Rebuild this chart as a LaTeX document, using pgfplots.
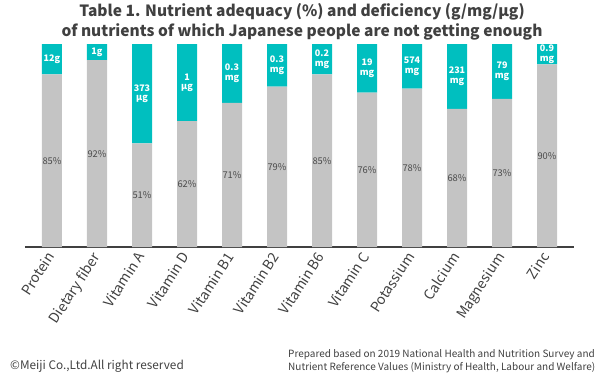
\documentclass[border=0pt]{standalone}
\usepackage{fontspec}
\setmainfont{Noto Sans CJK JP}
\usepackage{pgfplots}
\pgfplotsset{compat=1.18}
\definecolor{teal1}{HTML}{00BFBF}
\definecolor{gray1}{HTML}{C4C4C4}
\definecolor{txt}{HTML}{404040}
\definecolor{pct}{HTML}{4A4A4A}
\begin{document}
\begin{tikzpicture}
\path[use as bounding box] (0pt,0pt) rectangle (600pt,376pt);
\node[font=\bfseries\fontsize{15.5}{20}\selectfont, text=txt, align=center] at (302pt,354pt) {Table 1. Nutrient adequacy (\%) and deficiency (g/mg/µg)\\of nutrients of which Japanese people are not getting enough};
\begin{axis}[at={(25pt,129pt)}, anchor=south west, scale only axis, width=549pt, height=203pt,
  xmin=-0.6, xmax=11.6, ymin=0, ymax=100, ybar stacked, bar width=20pt,
  axis x line=bottom, axis y line=none, x axis line style={draw=txt, line width=1.2pt, -},
  xtick={0,...,11}, major tick length=0,
  xticklabels={Protein,Dietary fiber,Vitamin A,Vitamin D,Vitamin B1,Vitamin B2,Vitamin B6,Vitamin C,Potassium,Calcium,Magnesium,Zinc},
  xticklabel style={xshift=-7pt, yshift=1pt, rotate=57, anchor=north east, font=\fontsize{14}{16}\selectfont, text=txt},
  clip=false]
\addplot[fill=gray1, draw=none] coordinates {(0,85) (1,92) (2,51) (3,62) (4,71) (5,79) (6,85) (7,76) (8,78) (9,68) (10,73) (11,90)};
\addplot[fill=teal1, draw=none] coordinates {(0,15) (1,8) (2,49) (3,38) (4,29) (5,21) (6,15) (7,24) (8,22) (9,32) (10,27) (11,10)};
\end{axis}
\begin{axis}[at={(25pt,129pt)}, anchor=south west, scale only axis, width=549pt, height=203pt,
  xmin=-0.6, xmax=11.6, ymin=0, ymax=100, hide axis, clip=false]
\addplot[draw=none, mark=none, nodes near coords, point meta=explicit symbolic,
  nodes near coords style={anchor=center, font=\fontsize{9.3}{9.5}\selectfont, text=pct}]
 coordinates {(0,42.5) [85\%] (1,46) [92\%] (2,25.5) [51\%] (3,31) [62\%] (4,35.5) [71\%] (5,39.5) [79\%] (6,42.5) [85\%] (7,38) [76\%] (8,39) [78\%] (9,34) [68\%] (10,36.5) [73\%] (11,45) [90\%]};
\addplot[draw=none, mark=none, nodes near coords, point meta=explicit symbolic,
  nodes near coords style={anchor=center, align=center, font=\bfseries\fontsize{9}{9.5}\selectfont, text=white}]
 coordinates {(0,92.5) [12g] (1,96) [1g] (2,75.5) [{373\\µg}] (3,81) [{1\\µg}] (4,85.5) [{0.3\\mg}] (5,89.5) [{0.3\\mg}] (6,92.5) [{0.2\\mg}] (7,88) [{19\\mg}] (8,89) [{574\\mg}] (9,84) [{231\\mg}] (10,86.5) [{79\\mg}] (11,95) [{0.9\\mg}]};
\end{axis}
\node[anchor=west, font=\fontsize{11.8}{13}\selectfont, text=txt, inner sep=0pt] at (10pt,10pt) {©Meiji Co.,Ltd.All right reserved};
\node[anchor=west, align=left, font=\fontsize{10}{13}\selectfont, text=txt, inner sep=0pt] at (288pt,14.5pt) {Prepared based on 2019 National Health and Nutrition Survey and\\Nutrient Reference Values (Ministry of Health, Labour and Welfare)};
\end{tikzpicture}
\end{document}
